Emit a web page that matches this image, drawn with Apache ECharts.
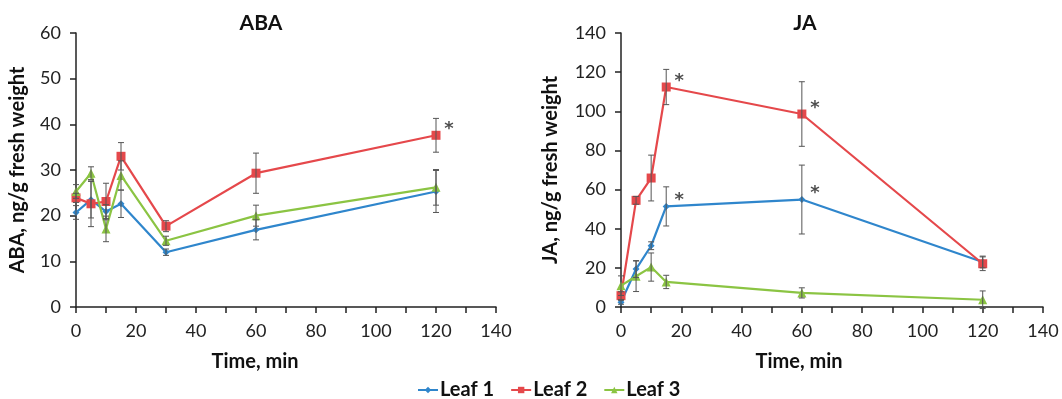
<!DOCTYPE html>
<html>
<head>
<meta charset="utf-8">
<script src="https://cdn.jsdelivr.net/npm/echarts@6/dist/echarts.min.js"></script>
<style>
  html, body { margin: 0; padding: 0; background: #fff; }
  #main { width: 1062px; height: 399px; }
</style>
</head>
<body>
<div id="main"></div>
<script>
// time points, min
const times = [0, 5, 10, 15, 30, 60, 120];
const timesJA = [0, 5, 10, 15, 60, 120];

// ABA, ng/g fresh weight
const abaLeaf1 = [20.7, 23.5, 20.9, 22.6, 12.0, 16.9, 25.3];
const abaLeaf2 = [23.9, 22.6, 23.1, 33.0, 17.7, 29.3, 37.6];
const abaLeaf3 = [25.3, 29.3, 17.1, 28.8, 14.5, 20.0, 26.2];
const abaErr1 = [1.5, 4.0, 1.5, 3.0, 0.7, 2.2, 4.6];
const abaErr2 = [1.0, 5.0, 4.0, 3.0, 1.2, 4.4, 3.7];
const abaErr3 = [1.5, 1.4, 2.8, 3.2, 1.0, 2.3, 3.9];

// JA, ng/g fresh weight
const jaLeaf1 = [2.4, 19.4, 31.3, 51.4, 54.9, 23.0];
const jaLeaf2 = [5.8, 54.5, 65.9, 112.4, 98.6, 22.1];
const jaLeaf3 = [10.9, 15.7, 20.4, 12.8, 7.2, 3.7];
const jaErr1 = [1.0, 4.3, 2.0, 10.0, 17.6, 3.0];
const jaErr2 = [2.0, 2.0, 11.7, 9.0, 16.5, 3.5];
const jaErr3 = [5.0, 7.8, 7.2, 3.4, 2.6, 4.5];

// significance marks: [time, value]
const abaStars = [[120, 37.6]];
const jaStars = [[15, 112.4], [15, 51.4], [60, 98.6], [60, 54.9]];

const names = ['Leaf 1', 'Leaf 2', 'Leaf 3'];
const colors = ['#2f86cc', '#e5484b', '#8bc443'];
const symbols = ['diamond', 'rect', 'triangle'];
const symbolSizes = [7, 9, 9];

const pair = (xs, ys) => xs.map((x, i) => [x, ys[i]]);
const triple = (xs, ys, es) => xs.map((x, i) => [x, ys[i], es[i]]);

const font = 'Lato';
const axisLine = { lineStyle: { color: '#222', width: 1.5 } };
const axisTick = { inside: false, length: 6, lineStyle: { color: '#222', width: 1.5 } };

function xAxis(gridIndex, shift) {
  return {
    type: 'value', gridIndex, min: 0, max: 140, interval: 10,
    name: 'Time, min', nameLocation: 'middle', nameGap: 45,
    nameTextStyle: { fontFamily: font, fontSize: 20, fontWeight: 'bold', color: '#111', padding: [0, shift, 0, 0] },
    axisLine, axisTick, splitLine: { show: false },
    axisLabel: {
      fontFamily: font, fontSize: 18, color: '#222', margin: 15,
      formatter: (v) => (v % 20 === 0 ? String(v) : '')
    }
  };
}
function yAxis(gridIndex, max, interval, name, gap) {
  return {
    type: 'value', gridIndex, min: 0, max, interval,
    name, nameLocation: 'middle', nameGap: gap,
    nameTextStyle: { fontFamily: font, fontSize: 20, fontWeight: 'bold', color: '#111' },
    axisLine: { show: true, ...axisLine }, axisTick: { show: true, ...axisTick },
    splitLine: { show: false },
    axisLabel: { fontFamily: font, fontSize: 18, color: '#222', margin: 15 }
  };
}

function lineSeries(i, idx, data) {
  return {
    name: names[i], type: 'line', xAxisIndex: idx, yAxisIndex: idx,
    data, symbol: symbols[i], symbolSize: symbolSizes[i], showAllSymbol: true,
    clip: false, z: 3,
    itemStyle: { color: colors[i] },
    lineStyle: { color: colors[i], width: 2.2 }
  };
}
function errSeries(idx, data) {
  return {
    name: 'err', type: 'custom', xAxisIndex: idx, yAxisIndex: idx, z: 4,
    data, clip: false,
    renderItem: (params, api) => {
      const x = api.value(0), y = api.value(1), e = api.value(2);
      const top = api.coord([x, y + e]);
      const bot = api.coord([x, y - e]);
      const st = { stroke: '#555', lineWidth: 1 };
      return {
        type: 'group', children: [
          { type: 'line', shape: { x1: top[0], y1: top[1], x2: bot[0], y2: bot[1] }, style: st },
          { type: 'line', shape: { x1: top[0] - 3, y1: top[1], x2: top[0] + 3, y2: top[1] }, style: st },
          { type: 'line', shape: { x1: bot[0] - 3, y1: bot[1], x2: bot[0] + 3, y2: bot[1] }, style: st }
        ]
      };
    }
  };
}
function starSeries(idx, data) {
  return {
    name: 'star', type: 'scatter', xAxisIndex: idx, yAxisIndex: idx,
    data, symbolSize: 0, z: 5, silent: true,
    label: {
      show: true, formatter: '*', position: 'inside', offset: [13, -6],
      fontFamily: 'DejaVu Sans', fontSize: 18, fontWeight: 'bold', color: '#222'
    }
  };
}

const aba = [abaLeaf1, abaLeaf2, abaLeaf3];
const abaE = [abaErr1, abaErr2, abaErr3];
const ja = [jaLeaf1, jaLeaf2, jaLeaf3];
const jaE = [jaErr1, jaErr2, jaErr3];

const series = [];
for (let i = 0; i < 3; i++) {
  series.push(lineSeries(i, 0, pair(times, aba[i])));
  series.push(lineSeries(i, 1, pair(timesJA, ja[i])));
}
for (let i = 0; i < 3; i++) {
  series.push(errSeries(0, triple(times, aba[i], abaE[i])));
  series.push(errSeries(1, triple(timesJA, ja[i], jaE[i])));
}
series.push(starSeries(0, abaStars));
series.push(starSeries(1, jaStars));

const chart = echarts.init(document.getElementById('main'), null, { renderer: 'canvas' });
chart.setOption({
  animation: false,
  backgroundColor: '#fff',
  title: [
    { text: 'ABA', left: 256, top: 8, textAlign: 'center',
      textStyle: { fontFamily: font, fontSize: 21, fontWeight: 'bold', color: '#111' } },
    { text: 'JA', left: 800, top: 8, textAlign: 'center',
      textStyle: { fontFamily: font, fontSize: 21, fontWeight: 'bold', color: '#111' } }
  ],
  legend: {
    data: names, top: 375, left: 412, itemWidth: 20, itemHeight: 8, itemGap: 16,
    textStyle: { fontFamily: font, fontSize: 20, fontWeight: 'bold', color: '#111', padding: [0, 0, 0, -3] }
  },
  grid: [
    { left: 76, right: 566, top: 33, bottom: 92 },
    { left: 621, right: 19, top: 33, bottom: 92 }
  ],
  xAxis: [xAxis(0, 62), xAxis(1, 66)],
  yAxis: [yAxis(0, 60, 10, 'ABA, ng/g fresh weight', 48), yAxis(1, 140, 20, 'JA, ng/g fresh weight', 60)],
  series
});
</script>
</body>
</html>
